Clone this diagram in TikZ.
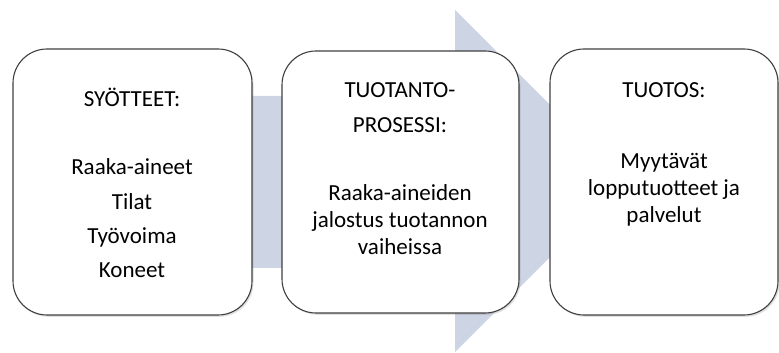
\documentclass[tikz,border=0pt]{standalone}
\usepackage{fontspec}
\setmainfont{Carlito}
\usetikzlibrary{shadows}
\definecolor{arrowfill}{HTML}{CDD4E4}
\definecolor{boxline}{HTML}{404040}
\begin{document}
\begin{tikzpicture}[x=1pt,y=1pt,
  card/.style={draw=boxline,line width=1.1pt,fill=white,rounded corners=34pt,
    drop shadow={shadow xshift=1.5pt,shadow yshift=-1.8pt,opacity=0.25}},
  txt/.style={font=\fontsize{23}{27}\selectfont,inner sep=0pt,anchor=center,align=center}]
\useasboundingbox (0,0) rectangle (779,353);
% big arrow
\fill[arrowfill] (13,257) -- (455,257) -- (455,343) -- (626,172) -- (455,1) -- (455,85) -- (13,85) -- cycle;
% boxes
\draw[card] (13,38) rectangle (252,304);
\draw[card] (282,40) rectangle (519,302);
\draw[card] (550,38) rectangle (778,304);
% box 1 text
\node[txt] (s1) at (132,256) {SYÖTTEET:};
\node[txt] (s2) at (132,186) {Raaka-aineet};
\node[txt] (s3) at (132,151) {Tilat};
\node[txt] (s4) at (132,116) {Työvoima};
\node[txt] (s5) at (132,83) {Koneet};
% box 2 text
\node[txt] (p1) at (400,263) {TUOTANTO-};
\node[txt] (p2) at (400,228) {PROSESSI:};
\node[txt] (p3) at (400,133) {Raaka-aineiden\\jalostus tuotannon\\vaiheissa};
% box 3 text
\node[txt] (t1) at (664,263) {TUOTOS:};
\node[txt] (t2) at (664,163) {Myytävät\\lopputuotteet ja\\palvelut};
\end{tikzpicture}
\end{document}
